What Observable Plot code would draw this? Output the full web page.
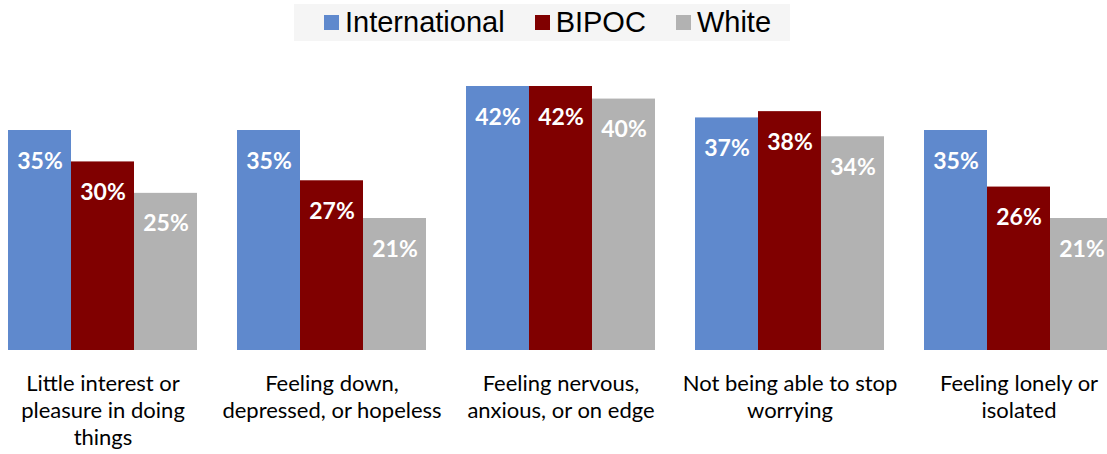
<!DOCTYPE html>
<html>
<head>
<meta charset="utf-8">
<script src="https://cdn.jsdelivr.net/npm/d3@7"></script>
<script src="https://cdn.jsdelivr.net/npm/@observablehq/plot@0.6"></script>
<style>
  html, body { margin: 0; padding: 0; background: #fff; }
  #wrap { position: relative; width: 1107px; height: 454px; overflow: hidden; }
  #legend { position: absolute; left: 294px; top: 4px; width: 496px; height: 37px; background: #f5f5f5;
            display: flex; align-items: center; padding-left: 30px; box-sizing: border-box;
            font-family: "Liberation Sans", Arial, sans-serif; font-size: 29px; color: #000; }
  .item { display: flex; align-items: center; margin-right: 30px; }
  .sw { width: 15px; height: 15px; margin-right: 6px; }
  #chart { position: absolute; left: 0; top: 45px; }
</style>
</head>
<body>
<div id="wrap">
  <div id="legend"></div>
  <div id="chart"></div>
</div>
<script>
const categories = [
  "Little interest or\npleasure in doing\nthings",
  "Feeling down,\ndepressed, or hopeless",
  "Feeling nervous,\nanxious, or on edge",
  "Not being able to stop\nworrying",
  "Feeling lonely or\nisolated"
];
const series = ["International", "BIPOC", "White"];
const colors = ["#5f89cd", "#800000", "#b2b2b2"];
const international = [35, 35, 42, 37, 35];
const bipoc = [30, 27, 42, 38, 26];
const white = [25, 21, 40, 34, 21];

const values = [international, bipoc, white];
const data = [];
categories.forEach((c, i) => {
  series.forEach((s, j) => data.push({category: c, series: s, value: values[j][i]}));
});

// legend
const legend = document.getElementById("legend");
series.forEach((s, j) => {
  const it = document.createElement("div");
  it.className = "item";
  it.innerHTML = `<div class="sw" style="background:${colors[j]}"></div><span>${s}</span>`;
  legend.appendChild(it);
});

const chart = Plot.plot({
  width: 1107,
  height: 409,
  marginLeft: 8,
  marginRight: -6,
  marginTop: 41,
  marginBottom: 104,
  fx: {domain: categories, paddingInner: 40 / 229, paddingOuter: 0, axis: null},
  x: {domain: series, padding: 0, axis: null},
  y: {domain: [0, 42], axis: null},
  color: {domain: series, range: colors},
  marks: [
    Plot.barY(data, {fx: "category", x: "series", y: "value", fill: "series"}),
    Plot.text(data, {
      fx: "category", x: "series", y: "value",
      text: d => d.value + "%",
      fill: "white", fontWeight: "bold", fontSize: 23,
      fontFamily: "Lato, sans-serif",
      lineAnchor: "bottom", dy: 38
    }),
    Plot.text(categories, {
      fx: d => d, text: d => d,
      frameAnchor: "bottom", lineAnchor: "top", dy: 21,
      lineHeight: 1.23, fontSize: 22, fill: "#000",
      fontFamily: "Lato, sans-serif"
    })
  ]
});
document.getElementById("chart").appendChild(chart);
</script>
</body>
</html>
